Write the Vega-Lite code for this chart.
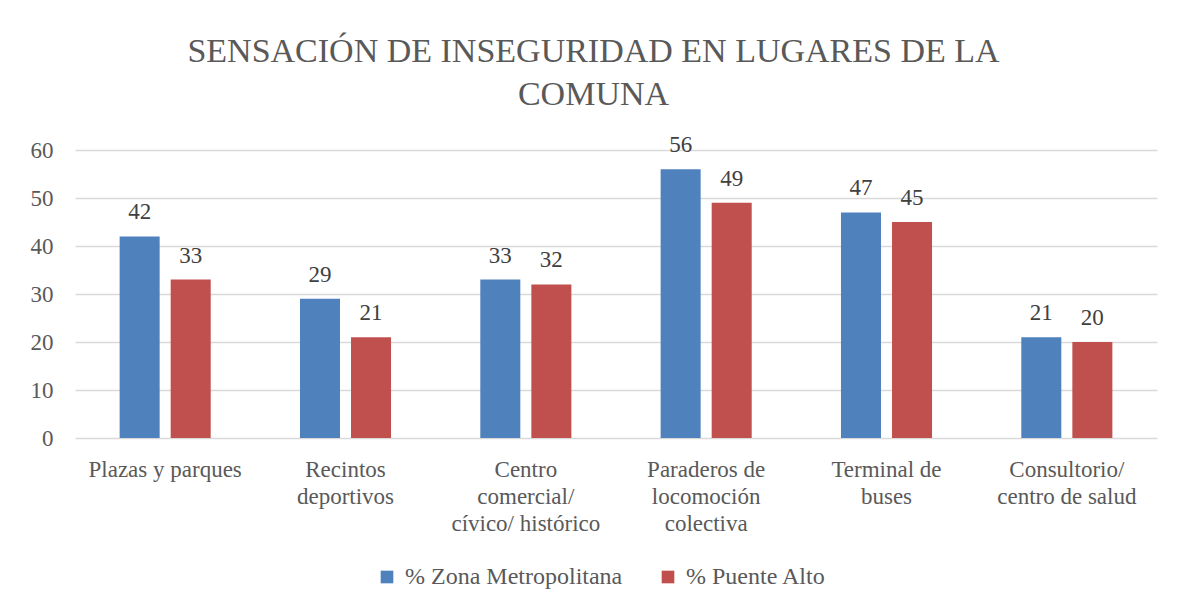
{
  "$schema": "https://vega.github.io/schema/vega-lite/v6.json",
  "width": 1082,
  "height": 288,
  "autosize": {"type": "none"},
  "padding": {"left": 75, "top": 150, "right": 26, "bottom": 174},
  "background": "#ffffff",
  "title": {
    "text": ["SENSACIÓN DE INSEGURIDAD EN LUGARES DE LA", "COMUNA"],
    "font": "Liberation Serif",
    "fontSize": 34,
    "fontWeight": "normal",
    "color": "#595959",
    "lineHeight": 43,
    "anchor": "middle",
    "frame": "bounds",
    "offset": 22
  },
  "data": {
    "values": [
      {"lugar": "Plazas y parques", "serie": "% Zona Metropolitana", "valor": 42},
      {"lugar": "Plazas y parques", "serie": "% Puente Alto", "valor": 33},
      {"lugar": "Recintos deportivos", "serie": "% Zona Metropolitana", "valor": 29},
      {"lugar": "Recintos deportivos", "serie": "% Puente Alto", "valor": 21},
      {"lugar": "Centro comercial/ cívico/ histórico", "serie": "% Zona Metropolitana", "valor": 33},
      {"lugar": "Centro comercial/ cívico/ histórico", "serie": "% Puente Alto", "valor": 32},
      {"lugar": "Paraderos de locomoción colectiva", "serie": "% Zona Metropolitana", "valor": 56},
      {"lugar": "Paraderos de locomoción colectiva", "serie": "% Puente Alto", "valor": 49},
      {"lugar": "Terminal de buses", "serie": "% Zona Metropolitana", "valor": 47},
      {"lugar": "Terminal de buses", "serie": "% Puente Alto", "valor": 45},
      {"lugar": "Consultorio/ centro de salud", "serie": "% Zona Metropolitana", "valor": 21},
      {"lugar": "Consultorio/ centro de salud", "serie": "% Puente Alto", "valor": 20}
    ]
  },
  "encoding": {
    "x": {
      "field": "lugar",
      "type": "nominal",
      "sort": null,
      "scale": {"paddingInner": 0.495, "paddingOuter": 0.2475},
      "axis": {
        "title": null,
        "labelAngle": 0,
        "domain": false,
        "ticks": false,
        "labelFont": "Liberation Serif",
        "labelFontSize": 23,
        "labelColor": "#595959",
        "labelPadding": 20,
        "labelLineHeight": 27,
        "labelLimit": 300,
        "labelExpr": "datum.label == 'Recintos deportivos' ? ['Recintos', 'deportivos'] : datum.label == 'Centro comercial/ cívico/ histórico' ? ['Centro', 'comercial/', 'cívico/ histórico'] : datum.label == 'Paraderos de locomoción colectiva' ? ['Paraderos de', 'locomoción', 'colectiva'] : datum.label == 'Terminal de buses' ? ['Terminal de', 'buses'] : datum.label == 'Consultorio/ centro de salud' ? ['Consultorio/', 'centro de salud'] : datum.label"
      }
    },
    "xOffset": {
      "field": "serie",
      "type": "nominal",
      "sort": ["% Zona Metropolitana", "% Puente Alto"],
      "scale": {"paddingInner": 0.216, "paddingOuter": 0}
    },
    "y": {
      "field": "valor",
      "type": "quantitative",
      "scale": {"domain": [0, 60]},
      "axis": {
        "title": null,
        "values": [0, 10, 20, 30, 40, 50, 60],
        "domain": false,
        "ticks": false,
        "grid": true,
        "gridColor": "#d9d9d9",
        "gridWidth": 1.5,
        "labelFont": "Liberation Serif",
        "labelFontSize": 23,
        "labelColor": "#595959",
        "labelPadding": 22
      }
    }
  },
  "layer": [
    {
      "mark": {"type": "bar"},
      "encoding": {
        "color": {
          "field": "serie",
          "type": "nominal",
          "sort": ["% Zona Metropolitana", "% Puente Alto"],
          "scale": {"domain": ["% Zona Metropolitana", "% Puente Alto"], "range": ["#4f81bd", "#c0504d"]},
          "legend": {
            "title": null,
            "orient": "none",
            "legendX": 300,
            "legendY": 415,
            "direction": "horizontal",
            "symbolType": "square",
            "symbolSize": 160,
            "symbolStrokeWidth": 0,
            "labelFont": "Liberation Serif",
            "labelFontSize": 24,
            "labelColor": "#595959",
            "labelOffset": 6,
            "labelLimit": 400,
            "columnPadding": 33
          }
        }
      }
    },
    {
      "mark": {"type": "text", "baseline": "alphabetic", "dy": -17, "font": "Liberation Serif", "fontSize": 23, "color": "#404040"},
      "encoding": {
        "text": {"field": "valor", "type": "quantitative"}
      }
    }
  ],
  "config": {
    "view": {"stroke": null}
  }
}
